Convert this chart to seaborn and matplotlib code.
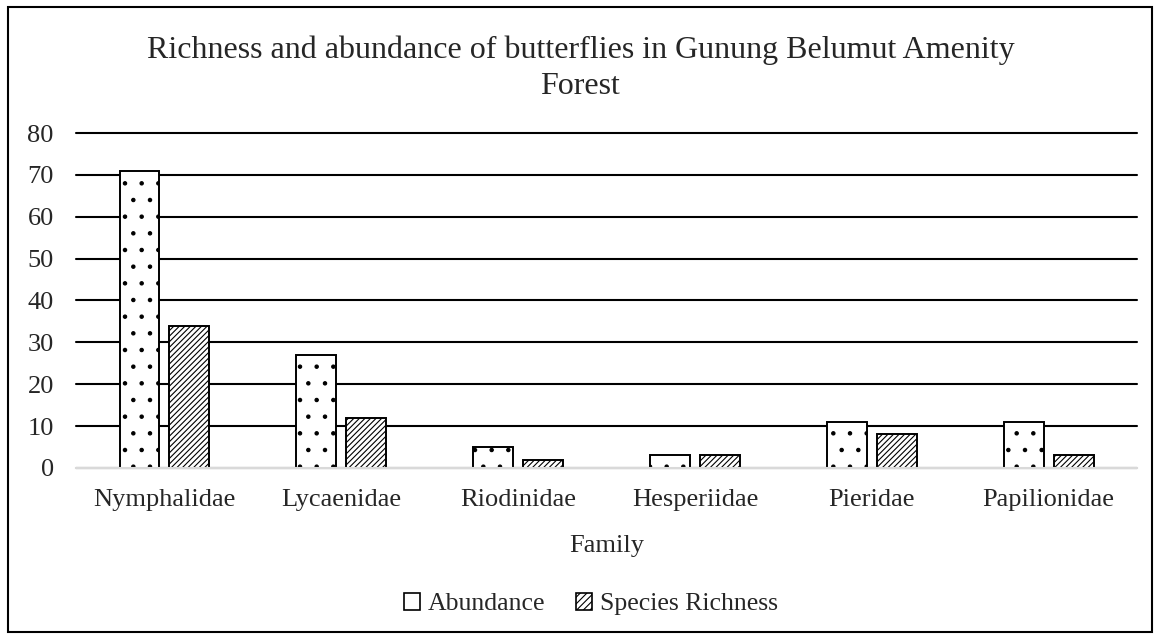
import matplotlib
matplotlib.use('Agg')
import matplotlib.pyplot as plt
from matplotlib.patches import Rectangle, Patch
import pandas as pd
import seaborn as sns

families = ['Nymphalidae', 'Lycaenidae', 'Riodinidae', 'Hesperiidae', 'Pieridae', 'Papilionidae']
abundance = [71, 27, 5, 3, 11, 11]
richness = [34, 12, 2, 3, 8, 3]
series_names = ['Abundance', 'Species Richness']

df = pd.DataFrame({
    'Family': families * 2,
    'value': abundance + richness,
    'series': [series_names[0]] * len(families) + [series_names[1]] * len(families),
})

sns.set_style('white')
plt.rcParams['font.family'] = ['Liberation Serif', 'DejaVu Serif']
plt.rcParams['hatch.linewidth'] = 0.8

fig = plt.figure(figsize=(11.61, 6.38), dpi=100)
ax = fig.add_axes([0.0655, 0.2665, 0.9139, 0.525])

# two bars per family, 40px wide with a 10px gap
sns.barplot(data=df, x='Family', y='value', hue='series', ax=ax,
            palette=['white', 'white'], width=0.565, gap=0.2,
            edgecolor='black', linewidth=1.4, legend=False, zorder=3)

hatches = ['.', '//////']
for i, cont in enumerate(ax.containers):
    for bar in cont:
        bar.set_hatch(hatches[i])
        bar.set_edgecolor('black')

ax.set_ylim(0, 80)
ax.set_yticks(range(0, 81, 10))
ax.grid(axis='y', color='black', linewidth=1.5, zorder=0)
for gl in ax.get_ygridlines():
    gl.set_clip_on(False)
ax.set_axisbelow(True)
for s in ['top', 'right', 'left']:
    ax.spines[s].set_visible(False)
ax.spines['bottom'].set_color('#d9d9d9')
ax.spines['bottom'].set_linewidth(1.5)
ax.spines['bottom'].set_zorder(4)
ax.tick_params(axis='both', length=0, labelsize=19)
ax.tick_params(axis='y', pad=16)
ax.tick_params(axis='x', pad=15)
ax.set_xlabel('Family', fontsize=19)
ax.xaxis.set_label_coords(0.5, -0.2)
ax.set_ylabel('')

fig.text(0.5, 0.893, 'Richness and abundance of butterflies in Gunung Belumut Amenity\nForest',
         ha='center', va='center', fontsize=23, linespacing=1.35)

handles = [Patch(facecolor='white', edgecolor='black', linewidth=1.2, label=series_names[0]),
           Patch(facecolor='white', edgecolor='black', linewidth=1.2, hatch='/////',
                 label=series_names[1])]
fig.legend(handles=handles, loc='center', bbox_to_anchor=(0.509, 0.053), ncol=2,
           frameon=False, fontsize=18.5, handlelength=0.62, handleheight=0.62,
           handletextpad=0.3, columnspacing=1.2)

fig.patches.append(Rectangle((0.0069, 0.0094), 0.9853, 0.98, transform=fig.transFigure,
                             fill=False, edgecolor='black', linewidth=1.5))

fig.savefig('out.png', dpi=100, facecolor='white')
